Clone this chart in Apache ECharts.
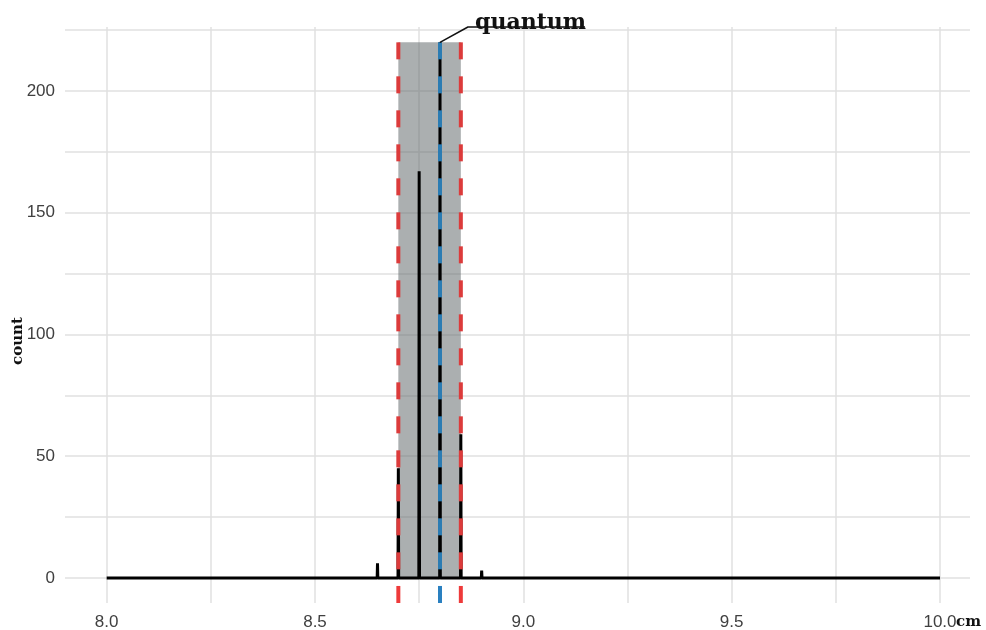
<!DOCTYPE html>
<html>
<head>
<meta charset="utf-8">
<script src="https://cdn.jsdelivr.net/npm/echarts@6/dist/echarts.min.js"></script>
<style>
  html, body { margin: 0; padding: 0; background: #fff; }
  #chart { width: 986px; height: 630px; }
</style>
</head>
<body>
<div id="chart"></div>
<script>
// histogram counts (very fine bins, so each shows as a spike)
var binX = [8.65, 8.70, 8.75, 8.80, 8.85, 8.90];
var binCount = [6, 45, 167, 220, 59, 3];
var dataRange = [8.0, 10.0];
// interval and mean
var lowerX = 8.70, upperX = 8.85, meanX = 8.80, bandTop = 220;
var labelText = 'quantum';
// ticks
var xTicks = [8.0, 8.5, 9.0, 9.5, 10.0];
var xMinor = [8.25, 8.75, 9.25, 9.75];
var yTicks = [0, 50, 100, 150, 200];
var yMinor = [25, 75, 125, 175, 225];

var xMin = 7.9, xMax = 10.072, yMin = -10.3, yMax = 226.3;

var lineData = [[dataRange[0], 0]];
for (var i = 0; i < binX.length; i++) {
    lineData.push([binX[i] - 0.0008, 0]);
    lineData.push([binX[i], binCount[i]]);
    lineData.push([binX[i] + 0.0008, 0]);
}
lineData.push([dataRange[1], 0]);

var gridColor = '#e0e0e0';
var red = '#dc3b3b', blue = '#2b7cb3';

function vline(x, color, z) {
    return {
        type: 'line', z: z, silent: true, symbol: 'none',
        data: [[x, bandTop], [x, 0]],
        lineStyle: { color: color, width: 4, type: [17, 17] }
    };
}
function rug(x, color) {
    return {
        type: 'line', z: 3, silent: true, symbol: 'none',
        data: [[x, yMin], [x, yMin + 7]],
        lineStyle: { color: color, width: 4 }
    };
}

var option = {
    animation: false,
    grid: { left: 65, right: 16, top: 27, bottom: 27, outerBoundsMode: 'none', containLabel: false },
    xAxis: {
        type: 'value', min: xMin, max: xMax,
        axisLine: { show: false, onZero: false }, axisTick: { show: false }, splitLine: { show: false },
        axisLabel: {
            customValues: xTicks, margin: 11,
            color: '#404040', fontSize: 17, fontFamily: 'Liberation Sans',
            formatter: function (v) { return v.toFixed(1); }
        },
        name: 'cm', nameLocation: 'end', nameGap: -14, nameMoveOverlap: false,
        nameTextStyle: {
            fontFamily: 'DejaVu Serif', fontWeight: 'bold', fontSize: 15, color: '#111',
            verticalAlign: 'top', padding: [12, 0, 0, 0]
        }
    },
    yAxis: {
        type: 'value', min: yMin, max: yMax,
        axisLine: { show: false }, axisTick: { show: false }, splitLine: { show: false },
        axisLabel: {
            customValues: yTicks, margin: 10,
            color: '#404040', fontSize: 17, fontFamily: 'Liberation Sans'
        },
        name: 'count', nameLocation: 'middle', nameGap: 39, nameRotate: 90, nameMoveOverlap: false,
        nameTextStyle: {
            fontFamily: 'DejaVu Serif', fontWeight: 'bold', fontSize: 15, color: '#111',
            padding: [0, 52, 0, 0]
        }
    },
    series: [
        {
            type: 'line', z: 0, silent: true, data: [],
            markLine: {
                z: 0, silent: true, symbol: 'none', label: { show: false },
                lineStyle: { color: gridColor, width: 1.5, type: 'solid' },
                data: xTicks.concat(xMinor).map(function (v) { return { xAxis: v }; })
                    .concat(yTicks.concat(yMinor).map(function (v) { return { yAxis: v }; }))
            }
        },
        {
            type: 'line', z: 1, silent: true, data: [],
            markArea: {
                z: 1, silent: true,
                itemStyle: { color: 'rgba(96,104,106,0.53)' },
                data: [[{ coord: [lowerX, 0] }, { coord: [upperX, bandTop] }]]
            }
        },
        {
            type: 'line', z: 2, silent: true, symbol: 'none', data: lineData,
            lineStyle: { color: '#000', width: 3 }
        },
        vline(lowerX, red, 3),
        vline(upperX, red, 3),
        vline(meanX, blue, 3),
        rug(lowerX, '#ee3a3a'),
        rug(upperX, '#ee3a3a'),
        rug(meanX, '#2a80c0'),
        {
            type: 'line', z: 4, silent: true, clip: false,
            symbol: 'none', symbolSize: 0,
            data: [[meanX, bandTop], [8.867, 226.3], [9.148, 226.3]],
            lineStyle: { color: '#111', width: 1.5 },
            label: { show: false },
            markPoint: {
                symbol: 'circle', symbolSize: 0,
                data: [{ coord: [8.884, 226.3] }],
                label: {
                    show: true, formatter: labelText, position: 'top', distance: 0,
                    align: 'left', verticalAlign: 'bottom', offset: [0, 7],
                    fontFamily: 'DejaVu Serif', fontWeight: 'bold', fontSize: 22, color: '#111'
                }
            }
        }
    ]
};

var chart = echarts.init(document.getElementById('chart'));
chart.setOption(option);
</script>
</body>
</html>
